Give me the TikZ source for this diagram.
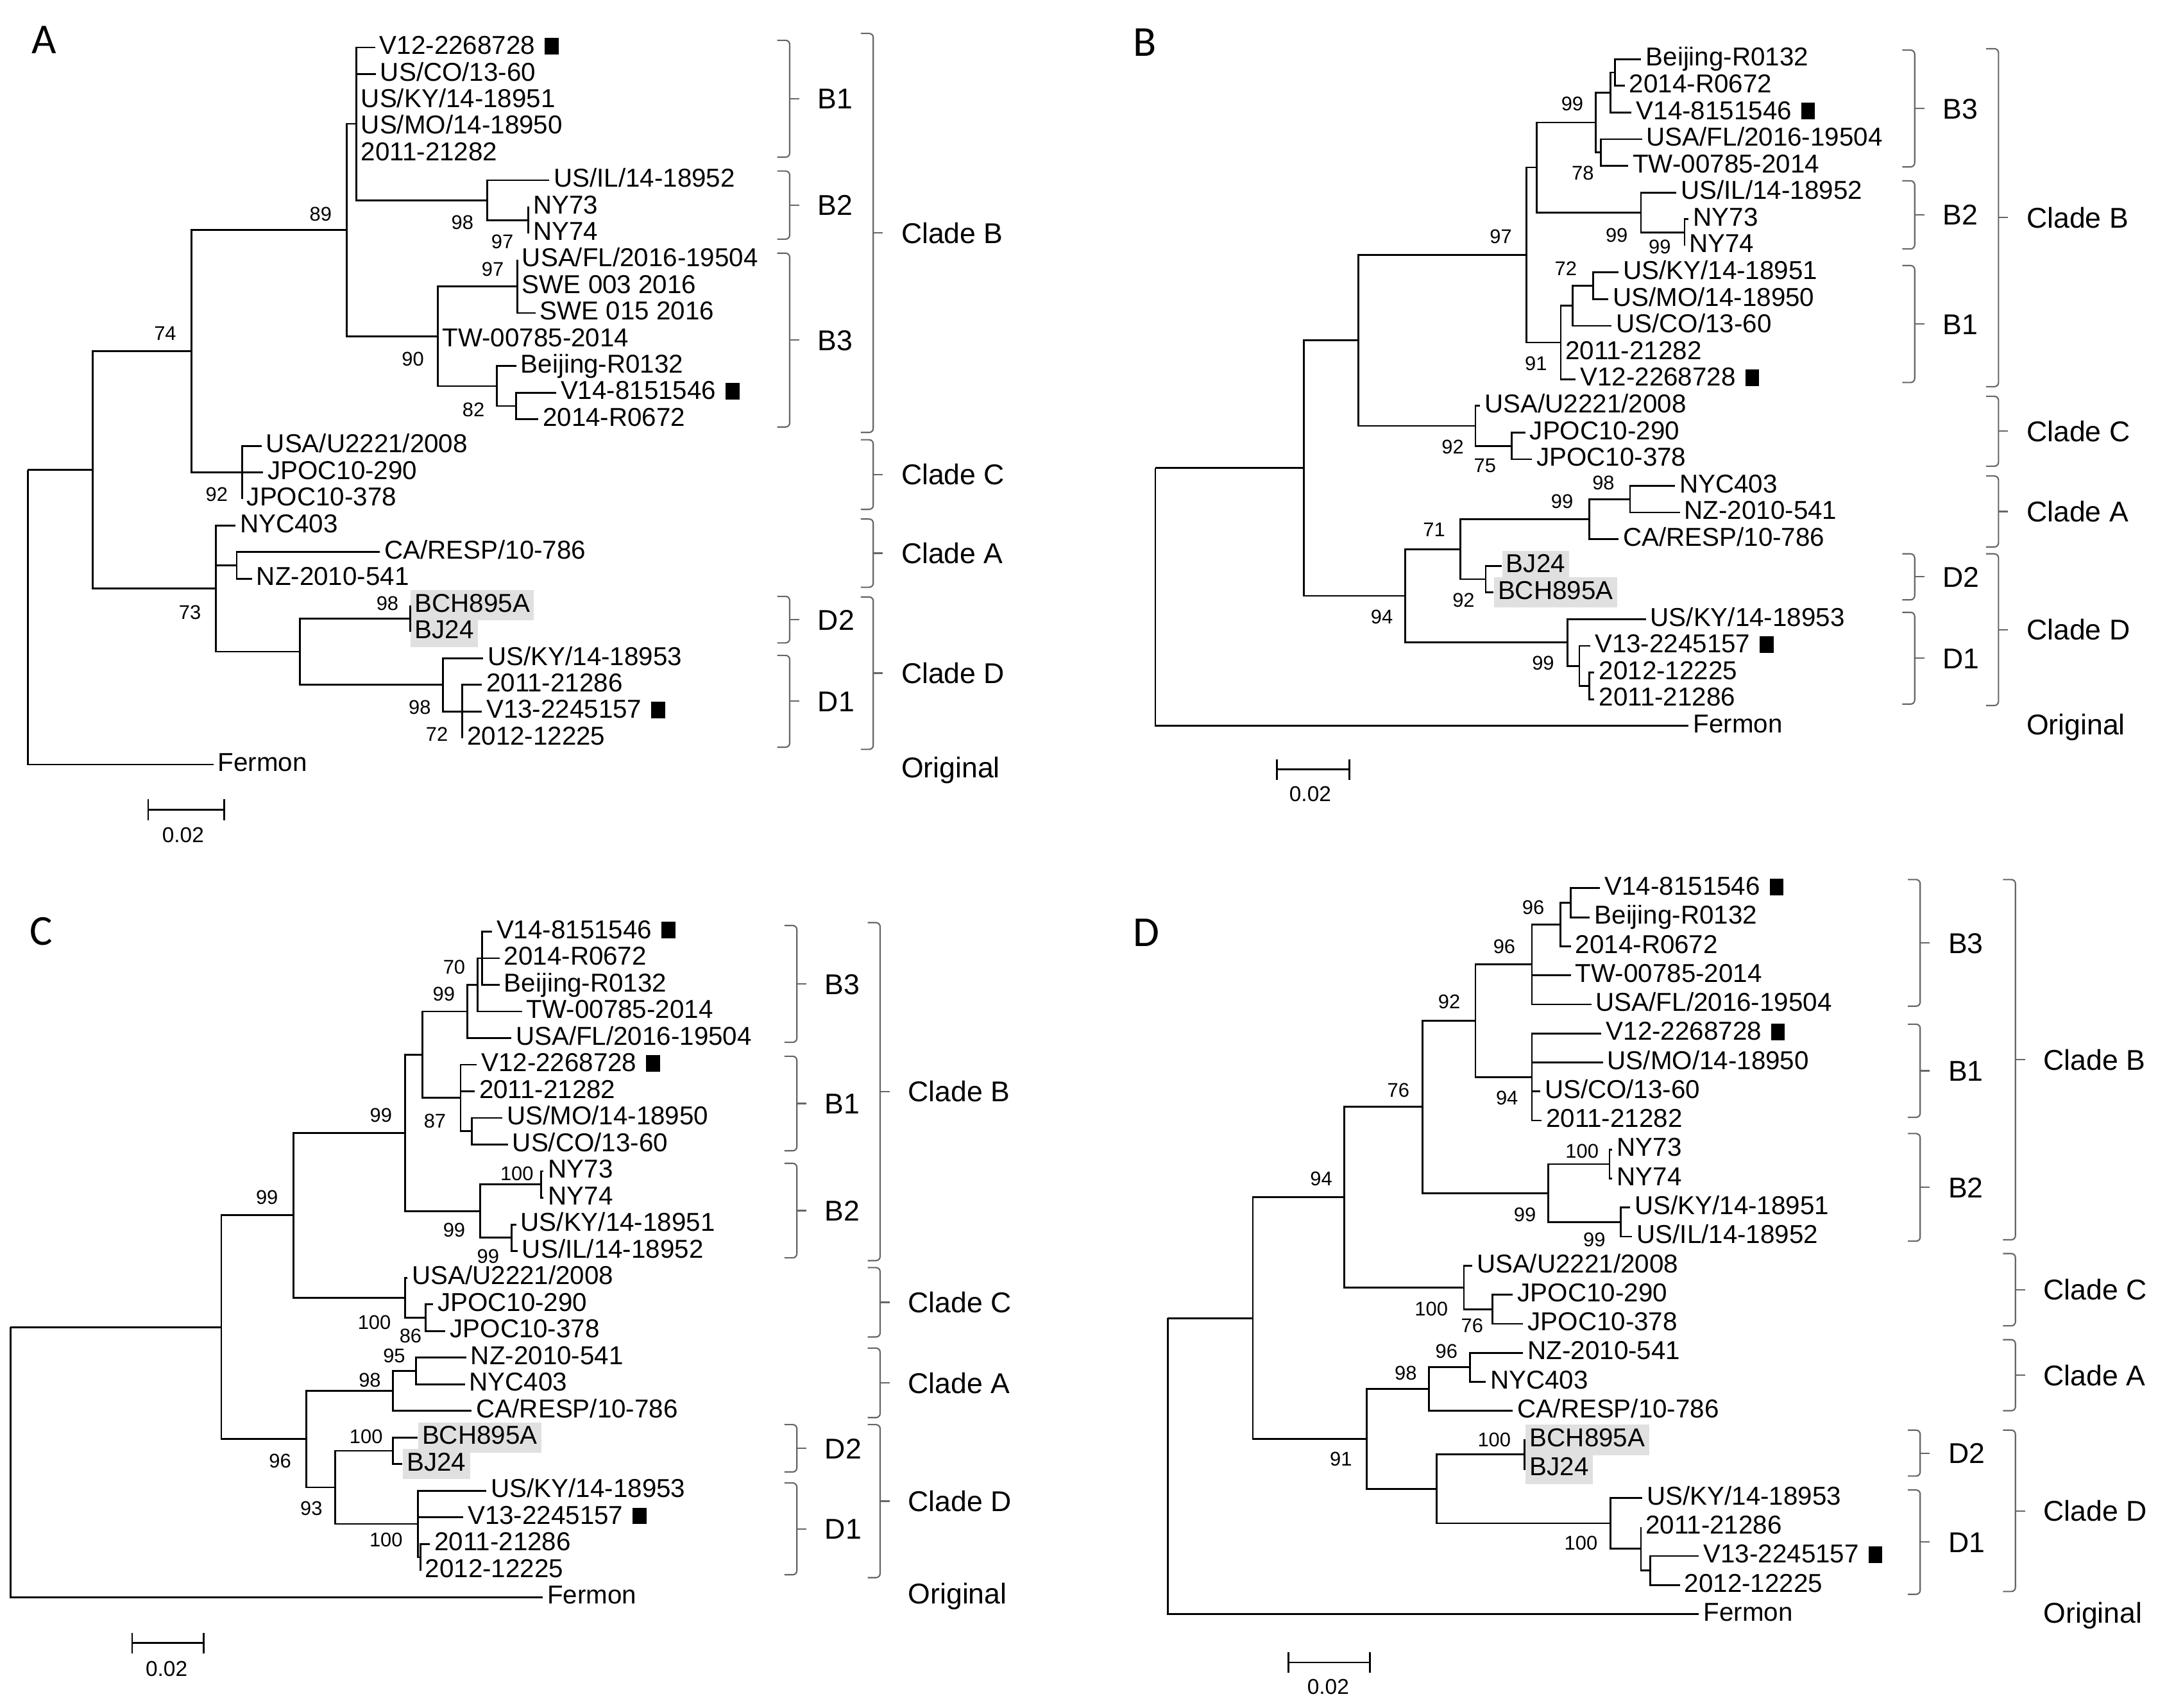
\documentclass[tikz,border=0pt]{standalone}
\usepackage{fontspec}
\setmainfont{Liberation Sans}
\newfontfamily\panelfont{Carlito}
\newcommand{\tagsq}{\hspace{3.5pt}\rule{5pt}{6pt}}

\begin{document}
\begin{tikzpicture}[x=0.5pt, y=-0.5pt,
  tree/.style={line width=0.65pt},
  clbr/.style={line width=0.5pt, black!60, rounded corners=1.5pt},
  leaf/.style={anchor=west, inner xsep=1.5pt, inner ysep=1.26pt, text height=6.73pt, text depth=1.75pt, font=\fontsize{9.4}{10}\selectfont},
  hl/.style={leaf, fill=black!12},
  boot/.style={inner sep=0pt, font=\fontsize{7.2}{8}\selectfont},
  cltext/.style={anchor=west, inner sep=0pt, text height=7.45pt, text depth=0pt, font=\fontsize{10.4}{12}\selectfont},
  panel/.style={inner sep=0pt, font=\panelfont\fontsize{15.5}{18}\selectfont},
  scaletext/.style={inner sep=0pt, font=\fontsize{7.8}{9}\selectfont}]
  \path[use as bounding box, fill=white] (0,0) rectangle (1568,1241);

  \node[panel] (pA) at (32,29) {A};
  \node[panel] (pB) at (832,31) {B};
  \node[panel] (pC) at (30,677) {C};
  \node[panel] (pD) at (833,677.6) {D};

  % panel A
  \foreach \ls/\lx/\lt [count=\i from 0] in {leaf/272.5/{V12-2268728\tagsq}, leaf/273/{US/CO/13-60},
    leaf/259/{US/KY/14-18951}, leaf/259/{US/MO/14-18950}, leaf/259/{2011-21282}, leaf/399/{US/IL/14-18952},
    leaf/384/{NY73}, leaf/384/{NY74}, leaf/376/{USA/FL/2016-19504}, leaf/376/{SWE 003 2016},
    leaf/389/{SWE 015 2016}, leaf/318/{TW-00785-2014}, leaf/375/{Beijing-R0132}, leaf/404/{V14-8151546\tagsq},
    leaf/391/{2014-R0672}, leaf/190/{USA/U2221/2008}, leaf/191/{JPOC10-290}, leaf/176/{JPOC10-378},
    leaf/171/{NYC403}, leaf/276/{CA/RESP/10-786}, leaf/183/{NZ-2010-541}, hl/298/{BCH895A}, hl/298/{BJ24},
    leaf/351/{US/KY/14-18953}, leaf/350/{2011-21286}, leaf/350/{V13-2245157\tagsq}, leaf/336/{2012-12225},
    leaf/155/{Fermon}}
    \node[\ls] (la\i) at (\lx,{34.5+19.3*\i}) {\lt};

  \coordinate (Aroot) at (20.2,341.5);
  \coordinate (Ain) at (67.2,341.5);
  \coordinate (Abc) at (139,255.25);
  \coordinate (Ab) at (252,167.2);
  \coordinate (Ab12) at (259,90);
  \coordinate (Ab2) at (354,145.5);
  \coordinate (Any) at (384,159.95);
  \coordinate (Ab3) at (318,244.4);
  \coordinate (Afl) at (376,208.2);
  \coordinate (Abj) at (361,280.6);
  \coordinate (Av14) at (375,295.05);
  \coordinate (Ac) at (176,343.3);
  \coordinate (Aad) at (157,427.75);
  \coordinate (Aa) at (172,410.85);
  \coordinate (Ad) at (218,473.6);
  \coordinate (Ad2) at (298,449.45);
  \coordinate (Ad1) at (322,497.7);
  \coordinate (Ad1b) at (336,517);

  \foreach \p/\c in {Aroot/Ain, Aroot/la27.west, Ain/Abc, Ain/Aad, Abc/Ab, Abc/Ac, Ab/Ab12, Ab/Ab3,
    Ab12/la0.west, Ab12/la1.west, Ab12/la2.west, Ab12/la3.west, Ab12/la4.west, Ab12/Ab2,
    Ab2/la5.west, Ab2/Any, Any/la6.west, Any/la7.west, Ab3/Afl, Ab3/la11.west, Ab3/Abj,
    Afl/la8.west, Afl/la9.west, Afl/la10.west, Abj/la12.west, Abj/Av14, Av14/la13.west, Av14/la14.west,
    Ac/la15.west, Ac/la16.west, Ac/la17.west, Aad/la18.west, Aad/Aa, Aad/Ad, Aa/la19.west, Aa/la20.west,
    Ad/Ad2, Ad/Ad1, Ad2/la21.west, Ad2/la22.west, Ad1/la23.west, Ad1/Ad1b,
    Ad1b/la24.west, Ad1b/la25.west, Ad1b/la26.west}
    \draw[tree] (\p) |- (\c);

  \foreach \bx/\by/\bv [count=\k] in {120/242.5/74, 233/155.6/89, 157.5/359.5/92, 336/161.7/98, 365/175.5/97,
    358/195.5/97, 300/261/90, 344/298/82, 138/445/73, 281.5/438.5/98, 305/514/98, 317.5/533.5/72}
    \node[boot] (bsA\k) at (\bx,\by) {\bv};

  \foreach \bx/\ta/\tb/\lb [count=\k] in {573.8/29.3/114.2/B1, 573.8/124.3/173.8/B2, 573.8/184/310.3/B3,
    573.8/433.4/467.2/D2, 573.8/476.3/543/D1, 634.5/24.3/314.3/Clade B, 634.5/319.6/370.2/Clade C,
    634.5/377.2/426.8/Clade A, 634.5/433.8/544.6/Clade D} {
    \draw[clbr] (\bx-9,\ta) -- (\bx,\ta) -- (\bx,\tb) -- (\bx-9,\tb);
    \draw[clbr] (\bx,{(\ta+\tb)/2}) -- ++(7,0);
    \node[cltext] (clA\k) at (\bx+20,{(\ta+\tb)/2}) {\lb};
  }
  \node[cltext, anchor=base west] (orA) at (654.5,565) {Original};

  \draw[tree] (107.7,581) -- (107.7,596) (107.7,588.5) -- (162.8,588.5) (162.8,581) -- (162.8,596);
  \node[scaletext] (scA) at (133,607) {0.02};

  % panel B
  \foreach \ls/\lx/\lt [count=\i from 0] in {leaf/1192.5/{Beijing-R0132}, leaf/1180.5/{2014-R0672},
    leaf/1185.5/{V14-8151546\tagsq}, leaf/1193/{USA/FL/2016-19504}, leaf/1183/{TW-00785-2014},
    leaf/1218/{US/IL/14-18952}, leaf/1227/{NY73}, leaf/1224/{NY74}, leaf/1176/{US/KY/14-18951},
    leaf/1168.6/{US/MO/14-18950}, leaf/1171/{US/CO/13-60}, leaf/1134/{2011-21282},
    leaf/1144.8/{V12-2268728\tagsq}, leaf/1075.5/{USA/U2221/2008}, leaf/1108.2/{JPOC10-290},
    leaf/1113/{JPOC10-378}, leaf/1217/{NYC403}, leaf/1220.5/{NZ-2010-541}, leaf/1176/{CA/RESP/10-786},
    hl/1091/{BJ24}, hl/1085/{BCH895A}, leaf/1195.8/{US/KY/14-18953}, leaf/1155.4/{V13-2245157\tagsq},
    leaf/1158.5/{2012-12225}, leaf/1158.5/{2011-21286}, leaf/1227/{Fermon}}
    \node[\ls] (lb\i) at (\lx,{43+19.38*\i}) {\lt};

  \coordinate (Broot) at (839.5,340.2);
  \coordinate (Bin) at (947.4,340.2);
  \coordinate (Bbc) at (987,247.4);
  \coordinate (Bb) at (1109.2,185.3);
  \coordinate (Bb32) at (1116.6,121.7);
  \coordinate (Bb3) at (1159.5,89.0);
  \coordinate (Bv) at (1170.2,67.2);
  \coordinate (Bbj) at (1173.3,52.69);
  \coordinate (Bfl) at (1163.2,110.83);
  \coordinate (Bb2) at (1192.3,154.4);
  \coordinate (Bny) at (1224,168.97);
  \coordinate (Bb1) at (1134,248.9);
  \coordinate (Bco) at (1142.8,222.27);
  \coordinate (Bky) at (1157.7,207.73);
  \coordinate (Bc) at (1072,309.47);
  \coordinate (Bjp) at (1098.3,324.0);
  \coordinate (Bd) at (1021,433.0);
  \coordinate (Bad) at (1061.2,399.1);
  \coordinate (Ba) at (1154.7,377.3);
  \coordinate (Bny4) at (1184.4,362.77);
  \coordinate (Bd2) at (1079.5,420.9);
  \coordinate (Bd1) at (1138.8,466.94);
  \coordinate (Bv13) at (1147.6,483.9);
  \coordinate (B1112) at (1154.6,498.43);

  \foreach \p/\c in {Broot/Bin, Broot/lb25.west, Bin/Bbc, Bin/Bd, Bbc/Bb, Bbc/Bc, Bb/Bb32, Bb/Bb1,
    Bb32/Bb3, Bb32/Bb2, Bb3/Bv, Bb3/Bfl, Bv/Bbj, Bv/lb2.west, Bbj/lb0.west, Bbj/lb1.west,
    Bfl/lb3.west, Bfl/lb4.west, Bb2/lb5.west, Bb2/Bny, Bny/lb6.west, Bny/lb7.west,
    Bb1/Bco, Bb1/lb11.west, Bb1/lb12.west, Bco/Bky, Bco/lb10.west, Bky/lb8.west, Bky/lb9.west,
    Bc/lb13.west, Bc/Bjp, Bjp/lb14.west, Bjp/lb15.west, Bd/Bad, Bd/Bd1, Bad/Ba, Bad/Bd2,
    Ba/Bny4, Ba/lb18.west, Bny4/lb16.west, Bny4/lb17.west, Bd2/lb19.west, Bd2/lb20.west,
    Bd1/lb21.west, Bd1/Bv13, Bv13/lb22.west, Bv13/B1112, B1112/lb23.west, B1112/lb24.west}
    \draw[tree] (\p) |- (\c);

  \foreach \bx/\by/\bv [count=\k] in {1142.4/75.4/99, 1150/126/78, 1090.5/172/97, 1174.7/170.8/99,
    1206/179.4/99, 1137.7/195/72, 1116/264.4/91, 1055.5/325/92, 1079/338.4/75, 1165/351/98,
    1135/364.6/99, 1042/384.8/71, 1063.4/436/92, 1004/448.5/94, 1121.2/481.8/99}
    \node[boot] (bsB\k) at (\bx,\by) {\bv};

  \foreach \bx/\ta/\tb/\lb [count=\k] in {1391.2/36.4/121.3/B3, 1391.2/131.4/180.9/B2, 1391.2/193/278/B1,
    1391.2/402.5/435.9/D2, 1391.2/445/511.7/D1, 1452.1/35.4/281/Clade B, 1452.1/288/338.8/Clade C,
    1452.1/345.9/397.5/Clade A, 1452.1/402.5/512.7/Clade D} {
    \draw[clbr] (\bx-9,\ta) -- (\bx,\ta) -- (\bx,\tb) -- (\bx-9,\tb);
    \draw[clbr] (\bx,{(\ta+\tb)/2}) -- ++(7,0);
    \node[cltext] (clB\k) at (\bx+20,{(\ta+\tb)/2}) {\lb};
  }
  \node[cltext, anchor=base west] (orB) at (1472.1,534) {Original};

  \draw[tree] (927.6,551.7) -- (927.6,566.7) (927.6,559.2) -- (980.5,559.2) (980.5,551.7) -- (980.5,566.7);
  \node[scaletext] (scB) at (952,577) {0.02};

  % panel C
  \foreach \ls/\lx/\lt [count=\i from 0] in {leaf/357.4/{V14-8151546\tagsq}, leaf/362.9/{2014-R0672},
    leaf/362.9/{Beijing-R0132}, leaf/379.2/{TW-00785-2014}, leaf/371.4/{USA/FL/2016-19504},
    leaf/346.3/{V12-2268728\tagsq}, leaf/344.8/{2011-21282}, leaf/365/{US/MO/14-18950},
    leaf/369/{US/CO/13-60}, leaf/395/{NY73}, leaf/395/{NY74}, leaf/375/{US/KY/14-18951},
    leaf/376/{US/IL/14-18952}, leaf/296/{USA/U2221/2008}, leaf/314.5/{JPOC10-290},
    leaf/323.6/{JPOC10-378}, leaf/338.7/{NZ-2010-541}, leaf/337.7/{NYC403}, leaf/342.8/{CA/RESP/10-786},
    hl/303.3/{BCH895A}, hl/292.2/{BJ24}, leaf/353.5/{US/KY/14-18953}, leaf/336.5/{V13-2245157\tagsq},
    leaf/312.4/{2011-21286}, leaf/305.5/{2012-12225}, leaf/394.3/{Fermon}}
    \node[\ls] (lc\i) at (\lx,{677+19.35*\i}) {\lt};

  \coordinate (Croot) at (7.6,964.5);
  \coordinate (Cin) at (160.8,964.5);
  \coordinate (Cbc) at (213.3,883.2);
  \coordinate (Cb) at (294.2,823.35);
  \coordinate (Cb31) at (306.9,766.5);
  \coordinate (Cb3) at (339.5,735.05);
  \coordinate (Ctw) at (346.9,715.7);
  \coordinate (Cv) at (350.4,696.35);
  \coordinate (Cb1) at (334.7,797.9);
  \coordinate (Cmo) at (342.8,822.1);
  \coordinate (Cb2) at (348.8,880.2);
  \coordinate (Cny) at (393.3,860.8);
  \coordinate (Cky) at (371.6,899.5);
  \coordinate (Cc) at (294.2,943.1);
  \coordinate (Cjp) at (309.4,957.6);
  \coordinate (Cad) at (222.4,1045.85);
  \coordinate (Ca) at (285.6,1010.8);
  \coordinate (Cnz) at (302.3,996.3);
  \coordinate (Cd) at (243.7,1080.9);
  \coordinate (Cd2) at (285.6,1054.3);
  \coordinate (Cd1) at (303.8,1107.5);
  \coordinate (C1112) at (305.5,1131.7);

  \foreach \p/\c in {Croot/Cin, Croot/lc25.west, Cin/Cbc, Cin/Cad, Cbc/Cb, Cbc/Cc, Cb/Cb31, Cb/Cb2,
    Cb31/Cb3, Cb31/Cb1, Cb3/Ctw, Cb3/lc4.west, Ctw/Cv, Ctw/lc3.west, Cv/lc0.west, Cv/lc1.west, Cv/lc2.west,
    Cb1/lc5.west, Cb1/lc6.west, Cb1/Cmo, Cmo/lc7.west, Cmo/lc8.west, Cb2/Cny, Cb2/Cky,
    Cny/lc9.west, Cny/lc10.west, Cky/lc11.west, Cky/lc12.west, Cc/lc13.west, Cc/Cjp,
    Cjp/lc14.west, Cjp/lc15.west, Cad/Ca, Cad/Cd, Ca/Cnz, Ca/lc18.west, Cnz/lc16.west, Cnz/lc17.west,
    Cd/Cd2, Cd/Cd1, Cd2/lc19.west, Cd2/lc20.west, Cd1/lc21.west, Cd1/lc22.west, Cd1/C1112,
    C1112/lc23.west, C1112/lc24.west}
    \draw[tree] (\p) |- (\c);

  \foreach \bx/\by/\bv [count=\k] in {330/703/70, 322.5/722.6/99, 276.8/810.5/99, 316/814.6/87, 194/870/99,
    375.6/853/100, 330/894/99, 354.6/913/99, 272/961/100, 298.3/971/86, 286.4/985.3/95, 268.7/1003/98,
    266/1043.9/100, 203.5/1061.6/96, 226.2/1096/93, 280.5/1119/100}
    \node[boot] (bsC\k) at (\bx,\by) {\bv};

  \foreach \bx/\ta/\tb/\lb [count=\k] in {579/672.6/757.5/B3, 579/767.6/836.3/B1, 579/845.4/914.1/B2,
    579/1035.3/1069.7/D2, 579/1077.7/1144.4/D1, 639.5/670.5/916.1/Clade B, 639.5/921.2/971.6/Clade C,
    639.5/979.7/1030.2/Clade A, 639.5/1035.3/1146.5/Clade D} {
    \draw[clbr] (\bx-9,\ta) -- (\bx,\ta) -- (\bx,\tb) -- (\bx-9,\tb);
    \draw[clbr] (\bx,{(\ta+\tb)/2}) -- ++(7,0);
    \node[cltext] (clC\k) at (\bx+20,{(\ta+\tb)/2}) {\lb};
  }
  \node[cltext, anchor=base west] (orC) at (659.5,1165.5) {Original};

  \draw[tree] (96,1186.5) -- (96,1201.5) (96,1194) -- (148,1194) (148,1186.5) -- (148,1201.5);
  \node[scaletext] (scC) at (121,1212.6) {0.02};

  % panel D
  \foreach \ls/\lx/\lt [count=\i from 0] in {leaf/1162.6/{V14-8151546\tagsq}, leaf/1155.2/{Beijing-R0132},
    leaf/1141.3/{2014-R0672}, leaf/1141.3/{TW-00785-2014}, leaf/1156.2/{USA/FL/2016-19504},
    leaf/1163.6/{V12-2268728\tagsq}, leaf/1164.6/{US/MO/14-18950}, leaf/1119/{US/CO/13-60},
    leaf/1120/{2011-21282}, leaf/1171.5/{NY73}, leaf/1171.5/{NY74}, leaf/1184.4/{US/KY/14-18951},
    leaf/1185.9/{US/IL/14-18952}, leaf/1069.6/{USA/U2221/2008}, leaf/1099.3/{JPOC10-290},
    leaf/1106.7/{JPOC10-378}, leaf/1106.7/{NZ-2010-541}, leaf/1079.5/{NYC403}, leaf/1099.3/{CA/RESP/10-786},
    hl/1108.2/{BCH895A}, hl/1108.2/{BJ24}, leaf/1193.3/{US/KY/14-18953}, leaf/1192.3/{2011-21286},
    leaf/1234.4/{V13-2245157\tagsq}, leaf/1220.5/{2012-12225}, leaf/1234.4/{Fermon}}
    \node[\ls] (ld\i) at (\lx,{645.5+21.1*\i}) {\lt};

  \coordinate (Droot) at (848.4,957.9);
  \coordinate (Din) at (910.3,957.9);
  \coordinate (Dbc) at (976.6,870.0);
  \coordinate (Db) at (1033.5,804.4);
  \coordinate (Db31) at (1072,741.8);
  \coordinate (Db3) at (1113.1,700.9);
  \coordinate (Dr) at (1133.9,671.9);
  \coordinate (Dv) at (1141.3,656.05);
  \coordinate (Db1) at (1113.1,782.65);
  \coordinate (Db2) at (1125,867.05);
  \coordinate (Dny) at (1169.5,845.95);
  \coordinate (Dky) at (1177.5,888.15);
  \coordinate (Dc) at (1063.7,935.6);
  \coordinate (Djp) at (1084.4,951.45);
  \coordinate (Dad) at (992.9,1045.75);
  \coordinate (Da) at (1038.4,1009.5);
  \coordinate (Dnz) at (1068.1,993.65);
  \coordinate (Dd) at (1043.9,1082.0);
  \coordinate (Dd2) at (1107.7,1056.95);
  \coordinate (Dd1) at (1170,1107.05);
  \coordinate (D11) at (1192.3,1125.5);
  \coordinate (Dv13) at (1199.2,1141.35);

  \foreach \p/\c in {Droot/Din, Droot/ld25.west, Din/Dbc, Din/Dad, Dbc/Db, Dbc/Dc, Db/Db31, Db/Db2,
    Db31/Db3, Db31/Db1, Db3/Dr, Db3/ld3.west, Db3/ld4.west, Dr/Dv, Dr/ld2.west, Dv/ld0.west, Dv/ld1.west,
    Db1/ld5.west, Db1/ld6.west, Db1/ld7.west, Db1/ld8.west, Db2/Dny, Db2/Dky,
    Dny/ld9.west, Dny/ld10.west, Dky/ld11.west, Dky/ld12.west, Dc/ld13.west, Dc/Djp,
    Djp/ld14.west, Djp/ld15.west, Dad/Da, Dad/Dd, Da/Dnz, Da/ld18.west, Dnz/ld16.west, Dnz/ld17.west,
    Dd/Dd2, Dd/Dd1, Dd2/ld19.west, Dd2/ld20.west, Dd1/ld21.west, Dd1/D11, D11/ld22.west, D11/Dv13,
    Dv13/ld23.west, Dv13/ld24.west}
    \draw[tree] (\p) |- (\c);

  \foreach \bx/\by/\bv [count=\k] in {1114/659.5/96, 1093/687.8/96, 1053/728/92, 1095/798/94, 1016/792.4/76,
    1149.5/836.8/100, 1108/882.8/99, 1158.4/901/99, 960/856.5/94, 1040/951.4/100, 1069.6/963.5/76,
    1051/981.8/96, 1021.4/998/98, 1085.7/1046.4/100, 974.3/1060.5/91, 1148.7/1121.6/100}
    \node[boot] (bsD\k) at (\bx,\by) {\bv};

  \foreach \bx/\ta/\tb/\lb [count=\k] in {1395.2/639.2/731.2/B3, 1395.2/744.3/812/B1, 1395.2/823.8/902/B2,
    1395.2/1039.3/1072.7/D2, 1395.2/1082.8/1158.6/D1, 1464.4/639.2/901/Clade B, 1464.4/911/963.5/Clade C,
    1464.4/973.6/1025.2/Clade A, 1464.4/1039.3/1156.6/Clade D} {
    \draw[clbr] (\bx-9,\ta) -- (\bx,\ta) -- (\bx,\tb) -- (\bx-9,\tb);
    \draw[clbr] (\bx,{(\ta+\tb)/2}) -- ++(7,0);
    \node[cltext] (clD\k) at (\bx+20,{(\ta+\tb)/2}) {\lb};
  }
  \node[cltext, anchor=base west] (orD) at (1484.4,1179.5) {Original};

  \draw[tree] (936,1200.6) -- (936,1215.6) (936,1208.1) -- (995.4,1208.1) (995.4,1200.6) -- (995.4,1215.6);
  \node[scaletext] (scD) at (965,1226) {0.02};
\end{tikzpicture}
\end{document}
